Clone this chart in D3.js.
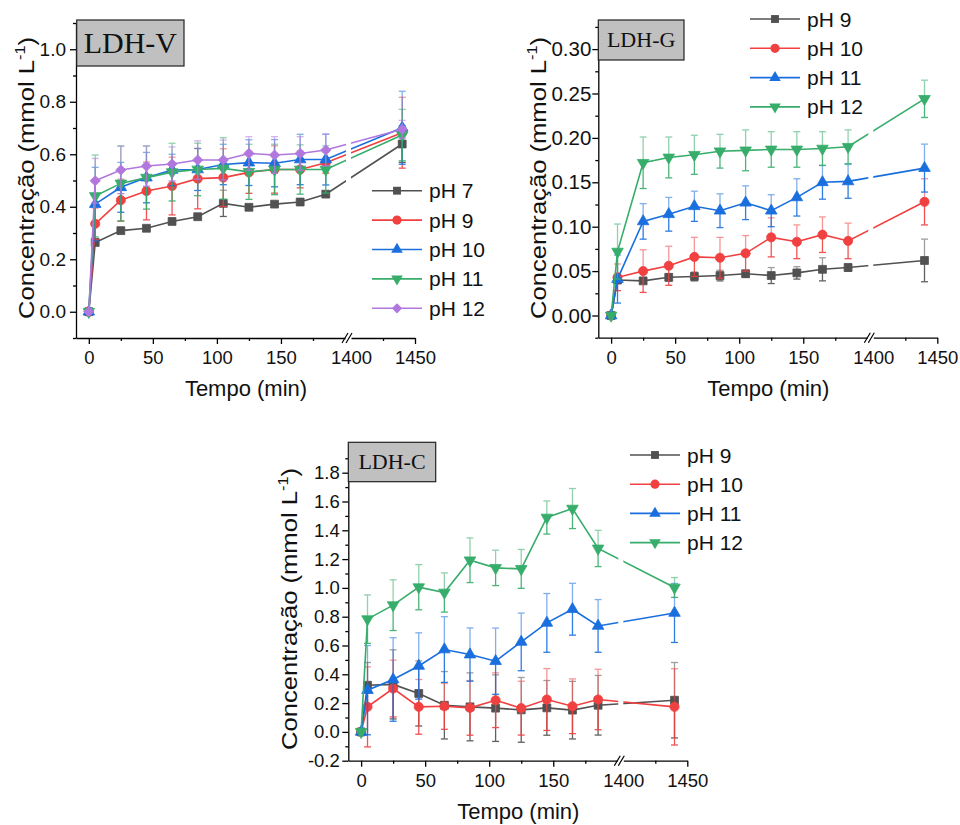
<!DOCTYPE html>
<html lang="pt">
<head>
<meta charset="utf-8">
<script src="https://d3js.org/d3.v7.min.js"></script>
<style>
    html, body {
        margin: 0;
        padding: 0;
        background: #fff;
    }
    svg {
        display: block;
        font-family: "Liberation Sans", Arial, sans-serif;
    }
    .axis path, .axis line {
        stroke: #000;
        stroke-width: 1.3px;
    }
    .axis text {
        font-family: "Liberation Sans", Arial, sans-serif;
        fill: #111;
    }
</style>
</head>
<body>
<svg id="chart" width="960" height="825"></svg>
<script>
// sampling times (min)
var times = [0, 5, 25, 45, 65, 85, 105, 125, 145, 165, 185, 1440];

// LDH-V
var vNames = ["pH 7", "pH 9", "pH 10", "pH 11", "pH 12"];
var vMean = [
    [0, 0.264, 0.309, 0.318, 0.344, 0.362, 0.413, 0.398, 0.410, 0.418, 0.448, 0.639],
    [0, 0.335, 0.425, 0.460, 0.479, 0.507, 0.511, 0.531, 0.542, 0.542, 0.568, 0.682],
    [0, 0.410, 0.474, 0.511, 0.540, 0.542, 0.561, 0.568, 0.566, 0.580, 0.580, 0.701],
    [0, 0.441, 0.489, 0.511, 0.532, 0.542, 0.546, 0.533, 0.542, 0.542, 0.542, 0.673],
    [0, 0.499, 0.540, 0.555, 0.563, 0.578, 0.578, 0.603, 0.597, 0.603, 0.616, 0.695]
];
var vErr = [
    [0, 0.01, 0.01, 0.01, 0.01, 0.01, 0.05, 0.01, 0.01, 0.01, 0.01, 0.07],
    [0, 0.06, 0.08, 0.11, 0.11, 0.115, 0.11, 0.08, 0.09, 0.07, 0.04, 0.135],
    [0, 0.14, 0.095, 0.096, 0.06, 0.08, 0.077, 0.087, 0.09, 0.096, 0.097, 0.139],
    [0, 0.156, 0.143, 0.12, 0.11, 0.1, 0.117, 0.105, 0.096, 0.094, 0.09, 0.098],
    [0, 0.085, 0.09, 0.077, 0.065, 0.073, 0.076, 0.064, 0.07, 0.064, 0.06, 0.034]
];

// LDH-G
var gNames = ["pH 9", "pH 10", "pH 11", "pH 12"];
var gMean = [
    [0, 0.040, 0.039, 0.043, 0.044, 0.045, 0.047, 0.045, 0.048, 0.052, 0.054, 0.062],
    [0, 0.043, 0.050, 0.056, 0.066, 0.065, 0.070, 0.088, 0.083, 0.091, 0.084, 0.128],
    [0, 0.041, 0.106, 0.114, 0.123, 0.118, 0.127, 0.118, 0.133, 0.150, 0.151, 0.166],
    [0, 0.072, 0.172, 0.178, 0.181, 0.185, 0.186, 0.187, 0.187, 0.188, 0.190, 0.244]
];
var gErr = [
    [0, 0.004, 0.003, 0.004, 0.005, 0.006, 0.004, 0.009, 0.007, 0.013, 0.004, 0.024],
    [0, 0.015, 0.024, 0.022, 0.022, 0.023, 0.02, 0.022, 0.019, 0.02, 0.02, 0.026],
    [0, 0.027, 0.02, 0.019, 0.017, 0.019, 0.019, 0.018, 0.021, 0.019, 0.019, 0.027],
    [0, 0.031, 0.029, 0.023, 0.022, 0.019, 0.023, 0.02, 0.02, 0.019, 0.019, 0.021]
];

// LDH-C
var cNames = ["pH 9", "pH 10", "pH 11", "pH 12"];
var cMean = [
    [0, 0.324, 0.330, 0.267, 0.185, 0.174, 0.165, 0.153, 0.167, 0.151, 0.185, 0.220],
    [0, 0.174, 0.301, 0.174, 0.178, 0.167, 0.220, 0.165, 0.225, 0.178, 0.225, 0.174],
    [0, 0.290, 0.364, 0.458, 0.572, 0.537, 0.491, 0.625, 0.757, 0.852, 0.736, 0.826],
    [0, 0.783, 0.880, 1.005, 0.968, 1.192, 1.139, 1.132, 1.489, 1.551, 1.274, 1.003]
];
var cErr = [
    [0, 0.158, 0.24, 0.226, 0.234, 0.236, 0.231, 0.225, 0.19, 0.2, 0.207, 0.262],
    [0, 0.278, 0.197, 0.19, 0.16, 0.19, 0.19, 0.187, 0.215, 0.19, 0.21, 0.265],
    [0, 0.31, 0.29, 0.23, 0.228, 0.185, 0.23, 0.2, 0.204, 0.18, 0.183, 0.205],
    [0, 0.168, 0.176, 0.157, 0.136, 0.155, 0.123, 0.135, 0.115, 0.139, 0.126, 0.069]
];

// axis ticks
var xMajorLeft = [0, 50, 100, 150];
var xMinorLeft = [25, 75, 125, 175];
var xMajorRight = [1400, 1450];
var xMinorRight = [1425];
var vTicks = [0.0, 0.2, 0.4, 0.6, 0.8, 1.0];
var gTicks = [0.00, 0.05, 0.10, 0.15, 0.20, 0.25, 0.30];
var cTicks = [-0.2, 0.0, 0.2, 0.4, 0.6, 0.8, 1.0, 1.2, 1.4, 1.6, 1.8];

// Origin-like palette
var grayC = "#515151", redC = "#F14040", blueC = "#1A6FDF", greenC = "#37AD6B", purpleC = "#B177DE";

var svg = d3.select("#chart");

function markerPath(shape) {
    if (shape === "square") return d3.symbol(d3.symbolSquare, 62)();
    if (shape === "circle") return d3.symbol(d3.symbolCircle, 66)();
    if (shape === "up" || shape === "down") return d3.symbol(d3.symbolTriangle, 58)();
    return d3.symbol(d3.symbolSquare, 52)(); // diamond = rotated square
}
function markerRot(shape) {
    if (shape === "down") return " rotate(180)";
    if (shape === "diamond") return " rotate(45)";
    return "";
}

function drawPanel(opt) {
    var g = svg.append("g");
    var x0 = opt.left, yb = opt.bottom;

    // broken x axis: two linear pieces
    var xa = d3.scaleLinear().domain([-10, 200]).range([x0, x0 + 269]);
    var xb = d3.scaleLinear().domain([1400, 1450]).range([x0 + 275, x0 + 339]);
    var x = function (t) { return t > 1000 ? xb(t) : xa(t); };
    var y = d3.scaleLinear().domain(opt.yDomain).range([yb, opt.top]);

    var fmt = function (d) { return d.toFixed(opt.digits); };
    var xfmt = d3.format("d");

    // x axis
    g.append("g").attr("class", "axis").attr("transform", "translate(0," + yb + ")")
        .style("font-size", "18.5px")
        .call(d3.axisBottom(xa).tickValues(xMajorLeft).tickSize(6).tickSizeOuter(0).tickPadding(7).tickFormat(xfmt));
    g.append("g").attr("class", "axis").attr("transform", "translate(0," + yb + ")")
        .call(d3.axisBottom(xa).tickValues(xMinorLeft).tickSize(3).tickFormat(""))
        .select(".domain").remove();
    var ax2 = g.append("g").attr("class", "axis").attr("transform", "translate(0," + yb + ")")
        .style("font-size", "18.5px")
        .call(d3.axisBottom(xb).tickValues(xMajorRight).tickSize(6).tickSizeOuter(0).tickPadding(7).tickFormat(xfmt));
    ax2.selectAll(".tick").filter(function (d) { return d === 1400; }).select("line").remove();
    g.append("g").attr("class", "axis").attr("transform", "translate(0," + yb + ")")
        .call(d3.axisBottom(xb).tickValues(xMinorRight).tickSize(3).tickFormat(""))
        .select(".domain").remove();

    // break marks
    var bx = x0 + 272;
    [-3, 1].forEach(function (o) {
        g.append("line")
            .attr("x1", bx + o - 3).attr("y1", yb + 5)
            .attr("x2", bx + o + 3).attr("y2", yb - 5)
            .attr("stroke", "#000").attr("stroke-width", 1.2);
    });

    // y axis
    var minor = [];
    for (var i = 0; i < opt.yTicks.length; i++) {
        minor.push(opt.yTicks[i] + opt.yStep / 2);
        if (i === 0) minor.push(opt.yTicks[i] - opt.yStep / 2);
    }
    minor = minor.filter(function (d) { return d >= opt.yDomain[0] - 1e-9 && d <= opt.yDomain[1] + 1e-9; });
    g.append("g").attr("class", "axis").attr("transform", "translate(" + x0 + ",0)")
        .style("font-size", opt.yFont + "px")
        .call(d3.axisLeft(y).tickValues(opt.yTicks).tickSize(6).tickSizeOuter(0).tickPadding(opt.yPad).tickFormat(fmt));
    g.append("g").attr("class", "axis").attr("transform", "translate(" + x0 + ",0)")
        .call(d3.axisLeft(y).tickValues(minor).tickSize(3).tickFormat(""))
        .select(".domain").remove();

    // axis titles
    g.append("text")
        .attr("x", x0 + 170).attr("y", yb + 58)
        .attr("text-anchor", "middle")
        .attr("font-size", 22).attr("fill", "#111")
        .text("Tempo (min)");
    var yl = g.append("text")
        .attr("transform", "translate(" + opt.yLabelX + "," + opt.yLabelY + ") rotate(-90)")
        .attr("text-anchor", "middle")
        .attr("font-size", 22).attr("fill", "#111")
        .attr("textLength", 282).attr("lengthAdjust", "spacingAndGlyphs");
    yl.append("tspan").text("Concentração (mmol L");
    yl.append("tspan").attr("font-size", 14).attr("dy", -9).text("-1");
    yl.append("tspan").attr("dy", 9).text(")");

    // clip leaves a small gap in the lines at the axis break
    var clipId = "clip-" + opt.id;
    var cp = svg.append("clipPath").attr("id", clipId);
    cp.append("rect").attr("x", 0).attr("y", 0).attr("width", x0 + 270).attr("height", 825);
    cp.append("rect").attr("x", x0 + 275).attr("y", 0).attr("width", 960).attr("height", 825);

    var plot = g.append("g").attr("clip-path", "url(#" + clipId + ")");
    var line = d3.line().x(function (d) { return x(d[0]); }).y(function (d) { return y(d[1]); });

    opt.means.forEach(function (m, s) {
        var col = opt.colors[s];
        var pts = times.map(function (t, i) { return [t, m[i], opt.errs[s][i]]; });
        var sg = plot.append("g");
        sg.append("path").datum(pts)
            .attr("d", line).attr("fill", "none")
            .attr("stroke", col).attr("stroke-width", 1.6);
        // error bars: upper half lighter, lower half solid
        pts.forEach(function (p) {
            if (!p[2]) return;
            var cx = x(p[0]), cy = y(p[1]), yt = y(p[1] + p[2]), ybt = y(p[1] - p[2]);
            var up = sg.append("g").attr("stroke", col).attr("stroke-width", 1.3).attr("opacity", 0.55);
            up.append("line").attr("x1", cx).attr("x2", cx).attr("y1", cy).attr("y2", yt);
            up.append("line").attr("x1", cx - 3.5).attr("x2", cx + 3.5).attr("y1", yt).attr("y2", yt);
            var dn = sg.append("g").attr("stroke", col).attr("stroke-width", 1.3).attr("opacity", 0.9);
            dn.append("line").attr("x1", cx).attr("x2", cx).attr("y1", cy).attr("y2", ybt);
            dn.append("line").attr("x1", cx - 3.5).attr("x2", cx + 3.5).attr("y1", ybt).attr("y2", ybt);
        });
        sg.selectAll(".mk").data(pts).enter().append("path")
            .attr("d", markerPath(opt.shapes[s]))
            .attr("transform", function (d) { return "translate(" + x(d[0]) + "," + y(d[1]) + ")" + markerRot(opt.shapes[s]); })
            .attr("fill", col).attr("stroke", col).attr("stroke-width", 0.8);
    });

    // legend
    opt.names.forEach(function (n, s) {
        var ly = opt.legend.y + s * opt.legend.dy;
        var lx = opt.legend.x;
        g.append("line").attr("x1", lx).attr("x2", lx + 50).attr("y1", ly).attr("y2", ly)
            .attr("stroke", opt.colors[s]).attr("stroke-width", 1.6);
        g.append("path").attr("d", markerPath(opt.shapes[s]))
            .attr("transform", "translate(" + (lx + 25) + "," + ly + ")" + markerRot(opt.shapes[s]))
            .attr("fill", opt.colors[s]);
        g.append("text").attr("x", lx + 57).attr("y", ly + 7.5)
            .attr("font-size", 21).attr("fill", "#111").text(n);
    });

    // label box
    var b = opt.box;
    g.append("rect").attr("x", b.x).attr("y", b.y).attr("width", b.w).attr("height", b.h)
        .attr("fill", "#c0c0c0").attr("stroke", "#222").attr("stroke-width", 1.2);
    g.append("text").attr("x", b.x + b.w / 2).attr("y", b.y + b.h / 2 + b.size * 0.34)
        .attr("text-anchor", "middle")
        .attr("font-family", "'Liberation Serif', 'Times New Roman', serif")
        .attr("font-size", b.size).attr("fill", "#111").text(b.text);
}

drawPanel({
    id: "v", left: 76, bottom: 338, top: 23, yDomain: [-0.1, 1.1], yTicks: vTicks, yStep: 0.2, digits: 1,
    yFont: 19, yPad: 4,
    yLabelX: 34, yLabelY: 178,
    means: vMean, errs: vErr, names: vNames,
    colors: [grayC, redC, blueC, greenC, purpleC],
    shapes: ["square", "circle", "up", "down", "diamond"],
    legend: { x: 372, y: 190.7, dy: 29.4 },
    box: { x: 76.7, y: 20, w: 107.3, h: 46, text: "LDH-V", size: 30 }
});

drawPanel({
    id: "g", left: 598.3, bottom: 337.7, top: 337.7 - 0.355 * 888, yDomain: [-0.025, 0.33], yTicks: gTicks, yStep: 0.05, digits: 2,
    yFont: 20.5, yPad: 1,
    yLabelX: 546, yLabelY: 178,
    means: gMean, errs: gErr, names: gNames,
    colors: [grayC, redC, blueC, greenC],
    shapes: ["square", "circle", "up", "down"],
    legend: { x: 750, y: 19, dy: 29.3 },
    box: { x: 598.3, y: 20, w: 85.7, h: 40, text: "LDH-G", size: 22 }
});

drawPanel({
    id: "c", left: 348.3, bottom: 760.7, top: 760.7 - 2.2 * 144, yDomain: [-0.2, 2.0], yTicks: cTicks, yStep: 0.2, digits: 1,
    yFont: 18.5, yPad: 2.5,
    yLabelX: 297, yLabelY: 609,
    means: cMean, errs: cErr, names: cNames,
    colors: [grayC, redC, blueC, greenC],
    shapes: ["square", "circle", "up", "down"],
    legend: { x: 630, y: 455, dy: 29.2 },
    box: { x: 348.3, y: 442.3, w: 87.4, h: 39.4, text: "LDH-C", size: 22 }
});
</script>
</body>
</html>
